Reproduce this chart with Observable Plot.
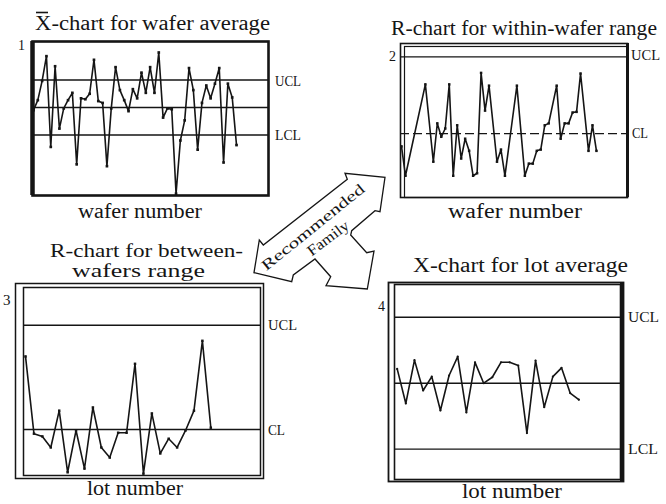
<!DOCTYPE html>
<html>
<head>
<meta charset="utf-8">
<script src="https://cdn.jsdelivr.net/npm/d3@7"></script>
<script src="https://cdn.jsdelivr.net/npm/@observablehq/plot@0.6"></script>
<style>
  html, body { margin: 0; padding: 0; background: #fff; }
  #page { position: relative; width: 666px; height: 504px; overflow: hidden; background: #fff; font-family: "Liberation Serif", "DejaVu Serif", serif; }
  #page svg.panel { position: absolute; overflow: visible; }
  #overlay { position: absolute; left: 0; top: 0; pointer-events: none; }
</style>
</head>
<body>
<div id="page"></div>
<script>
// ---------- DATA ----------
// Chart 1: X-bar chart for wafer average (wafer number, deviation in sigma units)
const p1Values = [-0.3, 0.8, 2.9, 5.6, -4.3, 4.5, -2.3, -0.1, 0.8, 1.6, -6.2, 1.0, 0.9, 1.5, 5.2, 0.7, 0.5, -6.4, -0.1, 4.4,
                  1.9, 0.8, -0.4, 2.0, 1.0, 3.8, 1.6, 4.4, 1.6, 6.0, -1.1, -0.1, -0.2, -9.4, -3.6, -1.4, 4.3, 1.9, -4.6, 0.5,
                  2.4, 1.0, 2.6, 4.3, -6.0, 2.6, 1.1, -4.1];
const p1Wafers = p1Values.map((_, i) => i + 1);
const p1Limits = { UCL: 3, CL: 0, LCL: -3 };

// Chart 2: R-chart for within-wafer range
const p2Wafers = [1, 2, 7, 9, 10, 11, 12, 13, 14, 15, 16, 17, 18, 19, 20, 21, 22, 23, 25, 26,
                  27, 30, 32, 33, 34, 35, 36, 37, 38, 40, 41, 42, 43, 44, 45, 46, 48, 49, 50];
const p2Values = [0.80, 0.34, 1.77, 0.56, 1.16, 0.95, 1.08, 1.77, 0.34, 1.13, 0.61, 0.92, 0.73, 0.34, 0.38, 1.95, 1.36, 1.75, 0.56, 0.75,
                  0.34, 1.75, 0.34, 0.53, 0.53, 0.73, 0.75, 1.13, 1.16, 1.75, 0.92, 1.16, 1.16, 1.33, 1.34, 1.94, 0.73, 1.13, 0.73];
const p2Limits = { UCL: 2.2, CL: 1 };

// Chart 3: R-chart for between-wafers range (lot number)
const p3Values = [2.59, 0.91, 0.85, 0.61, 1.41, 0.07, 0.98, 0.15, 1.48, 0.61, 0.39, 0.93, 0.93, 2.43, 0.04, 1.35, 0.48, 0.80, 0.61, 0.98,
                  1.41, 2.93, 1.04];
const p3Lots = p3Values.map((_, i) => i + 1);
const p3Limits = { UCL: 3.27, CL: 1 };

// Chart 4: X-chart for lot average
const p4Values = [0.65, -0.92, 1.05, -0.33, 0.30, -1.24, 0.35, 1.21, -1.33, 0.95, 0.0, 0.27, 0.95, 0.95, 0.80, -2.27, 1.03, -1.09, 0.30, 0.70,
                  -0.45, -0.75];
const p4Lots = p4Values.map((_, i) => i + 1);
const p4Limits = { UCL: 3, CL: 0, LCL: -3 };

// Text
const titles = ["X-chart for wafer average", "R-chart for within-wafer range", "R-chart for between-", "wafers range", "X-chart for lot average"];
const xLabels = ["wafer number", "wafer number", "lot number", "lot number"];
const panelNumbers = ["1", "2", "3", "4"];
const arrowWords = ["Recommended", "Family"];

// ---------- DRAWING ----------
const page = document.getElementById("page");
const INK = "#151515";

function panel({left, top, right, bottom, xDomain, yDomain, marks, pad = 10}) {
  const svg = Plot.plot({
    width: right - left + 2 * pad,
    height: bottom - top + 2 * pad,
    marginLeft: pad, marginRight: pad, marginTop: pad, marginBottom: pad,
    x: {domain: xDomain, axis: null},
    y: {domain: yDomain, axis: null},
    style: {background: "transparent", overflow: "visible"},
    marks
  });
  svg.classList.add("panel");
  svg.style.left = (left - pad) + "px";
  svg.style.top = (top - pad) + "px";
  page.appendChild(svg);
}

const rows = (xs, ys) => xs.map((x, i) => ({x, y: ys[i]}));

// Panel 1
{
  const data = rows(p1Wafers, p1Values);
  const xd = [0.77, 55.4];
  panel({
    left: 32, top: 41, right: 268, bottom: 195,
    xDomain: xd, yDomain: [-9.6, 7.2],
    marks: [
      Plot.ruleY([p1Limits.UCL, p1Limits.CL, p1Limits.LCL], {stroke: INK, strokeWidth: 1.4}),
      Plot.line(data, {x: "x", y: "y", stroke: INK, strokeWidth: 1.6}),
      Plot.dot(data, {x: "x", y: "y", r: 1.5, fill: INK, symbol: "square"}),
      Plot.frame({stroke: INK, strokeWidth: 2.6}),
      Plot.ruleX([xd[0]], {stroke: INK, strokeWidth: 4.5})
    ]
  });
}

// Panel 2
{
  const data = rows(p2Wafers, p2Values);
  const xd = [0.75, 57.8];
  panel({
    left: 400, top: 43, right: 627, bottom: 197,
    xDomain: xd, yDomain: [0, 2.41],
    marks: [
      Plot.ruleY([p2Limits.UCL], {stroke: INK, strokeWidth: 1.4}),
      Plot.ruleY([p2Limits.CL], {stroke: INK, strokeWidth: 1.3, strokeDasharray: "9,4"}),
      Plot.line(data, {x: "x", y: "y", stroke: INK, strokeWidth: 1.6}),
      Plot.dot(data, {x: "x", y: "y", r: 1.4, fill: INK, symbol: "square"}),
      Plot.frame({stroke: INK, strokeWidth: 1.6}),
      Plot.frame({stroke: INK, strokeWidth: 1.2, insetLeft: 4, insetTop: 3}),
      Plot.ruleX([xd[1]], {stroke: INK, strokeWidth: 3})
    ]
  });
}

// Panel 3
{
  const data = rows(p3Lots, p3Values);
  panel({
    left: 23, top: 287, right: 260, bottom: 475,
    xDomain: [0.76, 28.9], yDomain: [0, 4.09],
    marks: [
      Plot.ruleY([p3Limits.UCL, p3Limits.CL], {stroke: INK, strokeWidth: 1.4}),
      Plot.line(data, {x: "x", y: "y", stroke: INK, strokeWidth: 1.6}),
      Plot.dot(data, {x: "x", y: "y", r: 1.4, fill: INK, symbol: "square"}),
      Plot.frame({stroke: INK, strokeWidth: 1.5}),
      Plot.frame({stroke: INK, strokeWidth: 1.5, insetLeft: -8, insetTop: -4, insetRight: -3, insetBottom: -3})
    ]
  });
}

// Panel 4
{
  const data = rows(p4Lots, p4Values);
  const xd = [0.69, 26.82];
  panel({
    left: 394, top: 284, right: 620, bottom: 479,
    xDomain: xd, yDomain: [-4.38, 4.49],
    marks: [
      Plot.ruleY([p4Limits.UCL, p4Limits.CL, p4Limits.LCL], {stroke: INK, strokeWidth: 1.4}),
      Plot.line(data, {x: "x", y: "y", stroke: INK, strokeWidth: 1.6}),
      Plot.dot(data, {x: "x", y: "y", r: 1.1, fill: INK}),
      Plot.frame({stroke: INK, strokeWidth: 1.6}),
      Plot.frame({stroke: INK, strokeWidth: 1.8, insetLeft: -6, insetTop: -2, insetRight: -3, insetBottom: -2}),
      Plot.ruleX([xd[1]], {stroke: INK, strokeWidth: 4, dx: 1.5, insetTop: -2, insetBottom: -2})
    ]
  });
}

// ---------- OVERLAY: text + arrow ----------
const NS = "http://www.w3.org/2000/svg";
const overlay = document.createElementNS(NS, "svg");
overlay.setAttribute("id", "overlay");
overlay.setAttribute("width", 666);
overlay.setAttribute("height", 504);
page.appendChild(overlay);

function text(str, x, y, opts = {}) {
  const t = document.createElementNS(NS, "text");
  t.setAttribute("x", x);
  t.setAttribute("y", y);
  t.setAttribute("font-family", "Liberation Serif, DejaVu Serif, serif");
  t.setAttribute("font-size", opts.size || 20);
  t.setAttribute("fill", INK);
  if (opts.len) { t.setAttribute("textLength", opts.len); t.setAttribute("lengthAdjust", "spacingAndGlyphs"); }
  if (opts.transform) t.setAttribute("transform", opts.transform);
  if (opts.anchor) t.setAttribute("text-anchor", opts.anchor);
  t.textContent = str;
  overlay.appendChild(t);
  return t;
}

// Titles
text(titles[0], 35, 30, {len: 235});
// bar over the X of the first title
{
  const l = document.createElementNS(NS, "line");
  l.setAttribute("x1", 36); l.setAttribute("x2", 48); l.setAttribute("y1", 12.5); l.setAttribute("y2", 12.5);
  l.setAttribute("stroke", INK); l.setAttribute("stroke-width", 1.6);
  overlay.appendChild(l);
}
text(titles[1], 391, 35, {len: 266});
text(titles[2], 50, 257, {len: 193, size: 18.5});
text(titles[3], 72, 277, {len: 133, size: 18.5});
text(titles[4], 413, 272, {len: 215});

// x labels
text(xLabels[0], 78, 218, {len: 124});
text(xLabels[1], 448, 218, {len: 134});
text(xLabels[2], 87, 495, {len: 96});
text(xLabels[3], 462, 498, {len: 100});

// panel numbers
text(panelNumbers[0], 18, 50, {size: 14});
text(panelNumbers[1], 389, 61, {size: 14});
text(panelNumbers[2], 3, 305, {size: 15});
text(panelNumbers[3], 378, 311, {size: 14});

// control-limit labels
text("UCL", 275, 86, {size: 14, len: 26});
text("LCL", 275, 140, {size: 14, len: 26});
text("UCL", 631, 60, {size: 14, len: 29});
text("CL", 632, 138, {size: 14, len: 16});
text("UCL", 268, 330, {size: 14, len: 29});
text("CL", 268, 435, {size: 14, len: 17});
text("UCL", 628, 322, {size: 14, len: 31});
text("LCL", 628, 454, {size: 14, len: 30});

// "Recommended Family" arrow (decorative outline)
const arrowOutline = [
  [254, 272.7], [259.3, 240], [263.3, 245], [347.3, 179.3], [345, 173.3], [385, 177.3], [380, 211.7], [375, 210.7],
  [351.7, 230.7], [350.7, 235], [366.7, 252.7], [374, 251], [367.3, 289], [326, 285.7], [330.7, 276.7], [315, 259],
  [293.3, 275], [291.7, 281.7]
];
{
  const p = document.createElementNS(NS, "polygon");
  p.setAttribute("points", arrowOutline.map(d => d.join(",")).join(" "));
  p.setAttribute("fill", "#fff");
  p.setAttribute("stroke", INK);
  p.setAttribute("stroke-width", 1.3);
  p.setAttribute("stroke-linejoin", "miter");
  overlay.appendChild(p);
}
text(arrowWords[0], 0, 0, {size: 15, len: 128, anchor: "middle", transform: "translate(316,231) rotate(-39)"});
text(arrowWords[1], 0, 0, {size: 15, len: 48, anchor: "middle", transform: "translate(331,242) rotate(-37)"});
</script>
</body>
</html>
